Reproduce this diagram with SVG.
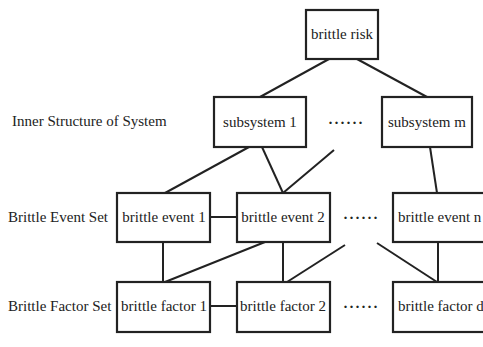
<svg xmlns="http://www.w3.org/2000/svg" width="483" height="347" viewBox="0 0 483 347">
<style>
.box{fill:#fff;stroke:#222;stroke-width:2.2}
.t{font-family:"Liberation Serif","Times New Roman",serif;font-size:15px;fill:#222;text-anchor:middle;dominant-baseline:central}
.l{font-family:"Liberation Serif","Times New Roman",serif;font-size:15px;fill:#222;dominant-baseline:central}
.d{font-family:"Liberation Serif","Times New Roman",serif;font-size:15px;font-weight:bold;letter-spacing:1px;fill:#222;text-anchor:middle;dominant-baseline:central}
.c{stroke:#222;stroke-width:2;fill:none}
</style>
<rect width="483" height="347" fill="#fff"/>
<g id="connectors">
<line class="c" x1="329" y1="59" x2="260" y2="97"/>
<line class="c" x1="357" y1="59" x2="427" y2="97"/>
<line class="c" x1="249" y1="147" x2="165" y2="193"/>
<line class="c" x1="262" y1="147" x2="283" y2="193"/>
<line class="c" x1="283" y1="193" x2="334" y2="150"/>
<line class="c" x1="430" y1="147" x2="437" y2="193"/>
<line class="c" x1="210" y1="217" x2="237" y2="217"/>
<line class="c" x1="163" y1="242" x2="163" y2="282"/>
<line class="c" x1="265" y1="242" x2="165" y2="282"/>
<line class="c" x1="283" y1="242" x2="283" y2="282"/>
<line class="c" x1="287" y1="282" x2="345" y2="245"/>
<line class="c" x1="377" y1="243" x2="437" y2="282"/>
<line class="c" x1="438" y1="242" x2="438" y2="282"/>
<line class="c" x1="210" y1="306" x2="237" y2="306"/>
</g>
<g id="labels">
<text class="l" x="12" y="121">Inner Structure of System</text>
<text class="l" x="8" y="217">Brittle Event Set</text>
<text class="l" x="8" y="306">Brittle Factor Set</text>
<text class="d" x="346" y="123">······</text>
<text class="d" x="361" y="218">······</text>
<text class="d" x="361" y="307">······</text>
</g>
<g id="brittle-risk"><rect class="box" x="306" y="10" width="72" height="49"/><text class="t" x="342" y="34">brittle risk</text></g>
<g id="subsystem-1"><rect class="box" x="214" y="97" width="92" height="50"/><text class="t" x="260" y="122">subsystem 1</text></g>
<g id="subsystem-m"><rect class="box" x="382" y="97" width="90" height="50"/><text class="t" x="427" y="122">subsystem m</text></g>
<g id="brittle-event-1"><rect class="box" x="117" y="193" width="93" height="49"/><text class="t" x="164" y="217">brittle event 1</text></g>
<g id="brittle-event-2"><rect class="box" x="237" y="193" width="93" height="49"/><text class="t" x="283" y="217">brittle event 2</text></g>
<g id="brittle-event-n"><rect class="box" x="393" y="193" width="95" height="49"/><text class="l" x="398" y="217">brittle event n</text></g>
<g id="brittle-factor-1"><rect class="box" x="117" y="282" width="93" height="50"/><text class="t" x="164" y="306">brittle factor 1</text></g>
<g id="brittle-factor-2"><rect class="box" x="237" y="282" width="93" height="50"/><text class="t" x="283" y="306">brittle factor 2</text></g>
<g id="brittle-factor-d"><rect class="box" x="393" y="282" width="95" height="50"/><text class="l" x="398" y="306">brittle factor d</text></g>
</svg>
